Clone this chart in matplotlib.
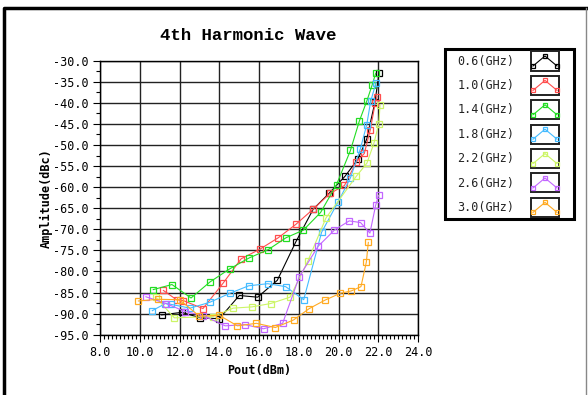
import matplotlib
matplotlib.use("Agg")
import matplotlib.pyplot as plt
from matplotlib.lines import Line2D
from matplotlib.patches import Rectangle
from matplotlib.ticker import MultipleLocator, FormatStrFormatter

# --- data ---
labels = ['0.6(GHz)', '1.0(GHz)', '1.4(GHz)', '1.8(GHz)', '2.2(GHz)', '2.6(GHz)', '3.0(GHz)']
colors = ['#000000', '#ff4d4d', '#22dd22', '#44bbff', '#ccf566', '#c266ff', '#ffaa22']

pout_06 = [11.10, 12.11, 13.05, 14.0, 15.01, 15.93, 16.92, 17.85, 18.73, 19.52, 20.33, 20.97, 21.42, 21.84, 22.04]
amp_06 = [-90.3, -89.7, -91.0, -91.2, -85.7, -86.1, -82.1, -73.0, -65.2, -61.5, -57.4, -53.4, -48.6, -39.7, -32.8]

pout_10 = [11.19, 11.85, 12.19, 13.18, 14.19, 15.10, 16.05, 16.97, 17.86, 18.73, 19.57, 20.30, 20.90, 21.30, 21.60, 21.85, 21.94]
amp_10 = [-84.5, -86.7, -86.9, -88.8, -82.8, -77.0, -74.7, -72.0, -68.8, -65.2, -61.5, -59.6, -54.0, -52.0, -46.4, -40.0, -38.5]

pout_14 = [10.68, 11.62, 12.58, 13.53, 14.52, 15.50, 16.47, 17.36, 18.23, 19.10, 19.90, 20.60, 21.05, 21.43, 21.69, 21.87]
amp_14 = [-84.3, -83.1, -86.3, -82.5, -79.4, -76.8, -74.8, -72.0, -70.2, -66.0, -59.4, -51.3, -44.3, -39.5, -35.8, -33.0]

pout_18 = [10.63, 11.29, 11.57, 12.53, 13.53, 14.52, 15.48, 16.44, 17.34, 18.25, 19.15, 19.97, 20.60, 21.10, 21.42, 21.62, 21.89]
amp_18 = [-89.3, -87.6, -87.8, -88.7, -87.3, -85.2, -83.4, -82.9, -83.6, -86.7, -70.7, -63.6, -57.8, -50.9, -45.2, -39.6, -35.2]

pout_22 = [10.80, 11.74, 13.70, 14.70, 15.65, 16.59, 17.56, 18.45, 19.37, 20.90, 21.43, 21.78, 22.03, 22.09]
amp_22 = [-86.1, -91.0, -90.7, -88.7, -88.4, -87.6, -86.1, -77.6, -67.3, -57.4, -54.3, -49.6, -44.9, -40.5]

pout_26 = [10.31, 11.32, 12.28, 13.20, 14.30, 15.28, 16.23, 17.19, 18.03, 18.98, 19.79, 20.54, 21.11, 21.58, 21.87, 22.02]
amp_26 = [-86.0, -87.6, -89.5, -90.5, -92.9, -92.6, -93.6, -92.3, -81.2, -74.0, -70.2, -68.0, -68.4, -70.9, -64.3, -61.9]

pout_30 = [9.93, 10.93, 12.0, 13.0, 14.0, 14.91, 15.87, 16.82, 17.74, 18.53, 19.32, 20.08, 20.65, 21.13, 21.40, 21.50]
amp_30 = [-87.0, -86.6, -86.7, -90.6, -90.4, -92.9, -92.3, -93.3, -91.5, -88.8, -86.8, -85.2, -84.6, -83.6, -77.8, -73.1]

xs = [pout_06, pout_10, pout_14, pout_18, pout_22, pout_26, pout_30]
ys = [amp_06, amp_10, amp_14, amp_18, amp_22, amp_26, amp_30]

mono = 'DejaVu Sans Mono'

fig = plt.figure(figsize=(5.88, 3.95), dpi=100)
ax = fig.add_axes([100 / 588, 1 - 334.7 / 395, 318 / 588, 274 / 395])

# Plotting each frequency curve
for x, y, c in zip(xs, ys, colors):
    ax.plot(x, y, color=c, lw=0.8, marker='s', ms=3.8, mfc='none', mec=c, mew=0.9)

# Axes limits, ticks and grid
ax.set_xlim(8, 24)
ax.set_ylim(-95, -30)
ax.xaxis.set_major_locator(MultipleLocator(2))
ax.xaxis.set_minor_locator(MultipleLocator(0.2))
ax.yaxis.set_major_locator(MultipleLocator(5))
ax.yaxis.set_minor_locator(MultipleLocator(2.5))
ax.xaxis.set_major_formatter(FormatStrFormatter('%.1f'))
ax.yaxis.set_major_formatter(FormatStrFormatter('%.1f'))
ax.tick_params(which='major', direction='out', length=5, width=0.8, labelsize=8.5, pad=3)
ax.tick_params(which='minor', direction='out', length=3, width=0.8)
for t in ax.get_xticklabels() + ax.get_yticklabels():
    t.set_family(mono)
ax.grid(True, which='major', color='#222222', lw=1.0)
for s in ax.spines.values():
    s.set_linewidth(1.0)

# Title and labels
fig.text(248 / 588, 1 - 35 / 395, '4th Harmonic Wave', ha='center', va='center',
         family='Liberation Mono', fontweight='bold', fontsize=12.5)
ax.set_xlabel('Pout(dBm)', family=mono, fontweight='bold', fontsize=8.5, labelpad=4)
ax.set_ylabel('Amplitude(dBc)', family=mono, fontweight='bold', fontsize=8.5, labelpad=0)

# Outer frame
fig.add_artist(Line2D([4 / 588, 4 / 588, 586 / 588], [0, 1 - 8 / 395, 1 - 8 / 395],
                      transform=fig.transFigure, color='black', lw=2.5))
fig.add_artist(Line2D([586 / 588, 586 / 588], [0, 1 - 8 / 395],
                      transform=fig.transFigure, color='#888888', lw=1))

# Legend drawn by hand
W, H = 588, 395
fig.add_artist(Rectangle((445 / W, 1 - 219 / H), 129 / W, 170 / H, transform=fig.transFigure,
                         fill=False, ec='black', lw=2.2))
for i, (lab, c) in enumerate(zip(labels, colors)):
    yc = 61 + i * 24.4
    fig.text(486 / W, 1 - yc / H, lab, ha='center', va='center', family=mono, fontsize=8.5,
             color='#222222')
    fig.add_artist(Rectangle((531 / W, 1 - (yc + 9.5) / H), 28 / W, 19 / H,
                             transform=fig.transFigure, fill=False, ec='#222222', lw=1.4))
    ix = [533 / W, 545 / W, 557 / W]
    iy = [1 - (yc + 5) / H, 1 - (yc - 5) / H, 1 - (yc + 5) / H]
    fig.add_artist(Line2D(ix, iy, transform=fig.transFigure, color=c, lw=0.8, marker='s',
                          ms=3.2, mfc='none', mec=c, mew=0.9))

plt.savefig('out.png', dpi=100)
